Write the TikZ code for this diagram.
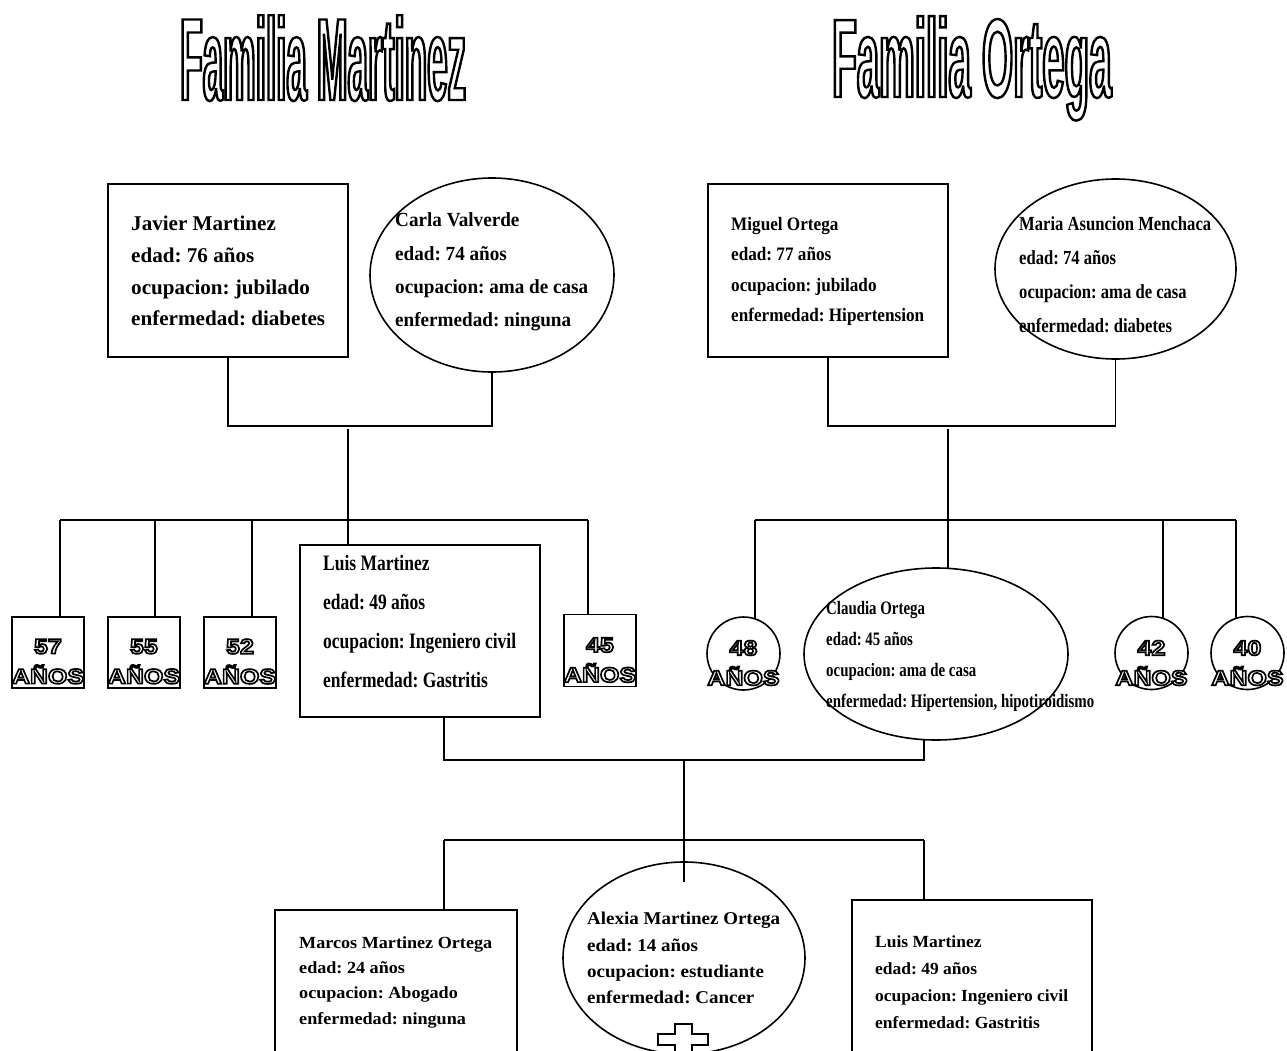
\documentclass[tikz,border=0pt]{standalone}
\usepackage{fontspec}
\setmainfont{Liberation Serif}
\newfontfamily\titleA{Liberation Sans}[FakeStretch=0.314]
\newfontfamily\titleB{Liberation Sans}[FakeStretch=0.36]
\newfontfamily\agefont{Liberation Sans}[FakeStretch=1.19]
\usepackage{graphicx}
\usetikzlibrary{shapes.geometric,backgrounds}
\frenchspacing
\newcommand\pinfo[4]{\resizebox{#3pt}{\height}{\fontsize{#1pt}{#2pt}\selectfont\bfseries\frenchspacing\begin{tabular}{@{}l@{}}#4\end{tabular}}}
\newcommand\outlined[2]{{\color{white}\special{pdf:literal direct 2 Tr #1 w 0 G}#2\special{pdf:literal direct 0 Tr 0.4 w}}}
\newcommand\agetxt[1]{\outlined{1.7}{#1}\\\outlined{1.7}{AÑOS}}
\begin{document}
\begin{tikzpicture}[x=1pt,y=-1pt,
  shp/.style={draw, line width=1.6pt, fill=white, inner sep=0pt},
  conn/.style={draw, line width=1.6pt},
  txt/.style={anchor=west, inner sep=0pt},
  agelbl/.style={align=center, inner sep=0pt,
    font=\agefont\bfseries\fontsize{21pt}{30pt}\selectfont}]
\useasboundingbox (0,0) rectangle (1287,1051);
\clip (0,0) rectangle (1287,1051);
% titles
\node[anchor=base west, inner sep=0pt] (tm) at (180,100) {\titleA\bfseries\fontsize{117pt}{120pt}\selectfont\outlined{2.4}{Familia Martinez}};
\node[anchor=base west, inner sep=0pt] (to) at (832,97) {\titleB\bfseries\fontsize{111.7pt}{120pt}\selectfont\outlined{2.4}{Familia Ortega}};
% grandparents
\node[shp, minimum width=240pt, minimum height=173pt] (javier) at (228,270.5) {};
\node[shp, ellipse, minimum width=244pt, minimum height=194pt] (carla) at (492,275) {};
\node[shp, minimum width=240pt, minimum height=173pt] (miguel) at (828,270.5) {};
\node[shp, ellipse, minimum width=241pt, minimum height=180pt] (maria) at (1115.5,269) {};
% children Martinez
\node[shp, minimum width=72pt, minimum height=71pt] (a57) at (48,652.5) {};
\node[shp, minimum width=72pt, minimum height=71pt] (a55) at (144,652.5) {};
\node[shp, minimum width=72pt, minimum height=71pt] (a52) at (240,652.5) {};
\node[shp, minimum width=240pt, minimum height=172pt] (luis) at (420,631) {};
\node[shp, minimum width=72pt, minimum height=72pt] (a45) at (600,650.5) {};
% children Ortega
\node[shp, circle, minimum size=73pt] (c48) at (743.5,653.5) {};
\node[shp, ellipse, minimum width=264pt, minimum height=172pt] (claudia) at (936,654) {};
\node[shp, circle, minimum size=73pt] (c42) at (1151.5,653) {};
\node[shp, circle, minimum size=73pt] (c40) at (1247.5,653) {};
% grandchildren
\node[shp, minimum width=242pt, minimum height=290pt] (marcos) at (396,1055) {};
\node[shp, ellipse, minimum width=242pt, minimum height=192pt] (alexia) at (684,958) {};
\node[shp, minimum width=240pt, minimum height=300pt] (luis2) at (972,1050) {};
% connectors (behind shapes)
\coordinate (m1) at (348,429);
\coordinate (bl1) at (60,520);
\coordinate (bl2) at (155,520);
\coordinate (bl3) at (252,520);
\coordinate (bl5) at (588,520);
\coordinate (m2) at (948,429);
\coordinate (br1) at (755,520);
\coordinate (br3) at (1163,520);
\coordinate (br4) at (1236,520);
\coordinate (lb) at (444,760);
\coordinate (rb) at (924,760);
\coordinate (mb) at (684,760);
\coordinate (mc) at (684,882);
\coordinate (gl) at (444,840);
\coordinate (gr) at (924,840);
\begin{scope}[on background layer]
\draw[conn] (javier.south) -- ++(0,68) -| (carla.south);
\draw[conn] (m1) -- (m1 |- luis.center);
\draw[conn] (bl1) -- (bl5);
\draw[conn] (bl1) -- (bl1 |- a57.center);
\draw[conn] (bl2) -- (bl2 |- a55.center);
\draw[conn] (bl3) -- (bl3 |- a52.center);
\draw[conn] (bl5) -- (bl5 |- a45.center);
\draw[conn] (miguel.south) -- ++(0,68) -| (maria.south);
\draw[conn] (m2) -- (m2 |- claudia.center);
\draw[conn] (br1) -- (br4);
\draw[conn] (br1) -- (br1 |- c48.center);
\draw[conn] (br3) -- (br3 |- c42.center);
\draw[conn] (br4) -- (br4 |- c40.center);
\draw[conn] (lb |- luis.center) -- (lb) -- (rb) -- (rb |- claudia.center);
\draw[conn] (gl) -- (gr);
\draw[conn] (gl) -- (gl |- marcos.center);
\draw[conn] (gr) -- (gr |- luis2.center);
\end{scope}
\draw[conn] (mb) -- (mc);
% cross
\draw[line width=1.5pt, fill=white] (675,1080) -- (675,1045) -- (658,1045) -- (658,1034) -- (675,1034) -- (675,1024) -- (692,1024) -- (692,1034) -- (708,1034) -- (708,1045) -- (692,1045) -- (692,1080) -- cycle;
% texts
\node[txt] (tjavier) at (131,272) {\pinfo{21}{31.7}{194}{Javier Martinez\\edad: 76 años\\ocupacion: jubilado\\enfermedad: diabetes}};
\node[txt] (tcarla) at (395,270) {\pinfo{20}{33.3}{193}{Carla Valverde\\edad: 74 años\\ocupacion: ama de casa\\enfermedad: ninguna}};
\node[txt] (tmiguel) at (731,270) {\pinfo{19}{30}{193}{Miguel Ortega\\edad: 77 años\\ocupacion: jubilado\\enfermedad: Hipertension}};
\node[txt] (tmaria) at (1019,274.5) {\pinfo{20}{34}{192}{Maria Asuncion Menchaca\\edad: 74 años\\ocupacion: ama de casa\\enfermedad: diabetes}};
\node[txt] (tluis) at (323,621.5) {\pinfo{22}{39}{193}{Luis Martinez\\edad: 49 años\\ocupacion: Ingeniero civil\\enfermedad: Gastritis}};
\node[txt] (tclaudia) at (826,655) {\pinfo{19}{31}{268}{Claudia Ortega\\edad: 45 años\\ocupacion: ama de casa\\enfermedad: Hipertension, hipotiroidismo}};
\node[txt] (tmarcos) at (299,981) {\pinfo{17}{25.3}{193}{Marcos Martinez Ortega\\edad: 24 años\\ocupacion: Abogado\\enfermedad: ninguna}};
\node[txt] (talexia) at (587,959) {\pinfo{18}{26.3}{193}{Alexia Martinez Ortega\\edad: 14 años\\ocupacion: estudiante\\enfermedad: Cancer}};
\node[txt] (tluis2) at (875,982.5) {\pinfo{17}{27}{193}{Luis Martinez\\edad: 49 años\\ocupacion: Ingeniero civil\\enfermedad: Gastritis}};
% age labels
\node[agelbl] (l57) at (48,661.5) {\agetxt{57}};
\node[agelbl] (l55) at (144,661.5) {\agetxt{55}};
\node[agelbl] (l52) at (240,661.5) {\agetxt{52}};
\node[agelbl] (l45) at (600,660) {\agetxt{45}};
\node[agelbl] (l48) at (743.5,663) {\agetxt{48}};
\node[agelbl] (l42) at (1151.5,663) {\agetxt{42}};
\node[agelbl] (l40) at (1247.5,663) {\agetxt{40}};
\end{tikzpicture}
\end{document}
